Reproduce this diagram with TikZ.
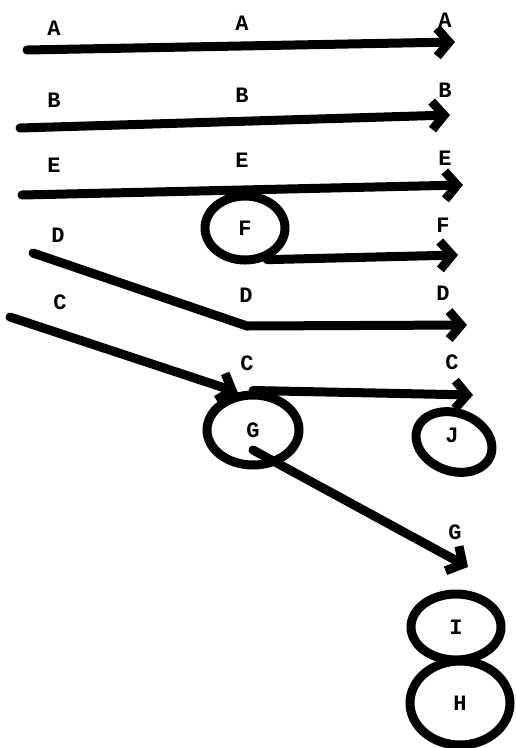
\documentclass[tikz,border=0pt]{standalone}
\usepackage{fontspec}
\setmonofont{Liberation Mono}
\usetikzlibrary{arrows.meta, shapes.geometric}
\tikzset{
  flow/.style={-{Straight Barb[length=12pt,width=28pt]}, line width=9pt, line cap=round, line join=round},
  lbl/.style={font=\ttfamily\bfseries\fontsize{22}{26}\selectfont, inner sep=0pt},
  blob/.style={ellipse, draw, line width=9pt, inner sep=0pt, font=\ttfamily\bfseries\fontsize{22}{26}\selectfont},
}
\begin{document}
\begin{tikzpicture}[x=1pt, y=-1pt]
  \useasboundingbox (0,0) rectangle (516,748);
  % straight rows
  \foreach \n/\xa/\ya/\xb/\yb in {A/27/50/455/42, B/20/128/450/115, E/22/195/463/185} {
    \coordinate (\n0) at (\xa,\ya);
    \coordinate (\n1) at (\xb,\yb);
    \draw[flow] (\n0) -- (\n1);
  }
  \foreach \n/\ya/\yb/\yc in {A/28/23/20, B/100/95/90, E/165/160/158} {
    \node[lbl] (l\n1) at (54,\ya) {\n};
    \node[lbl] (l\n2) at (242,\yb) {\n};
    \node[lbl] (l\n3) at (445,\yc) {\n};
  }
  % circles
  \node[blob, minimum width=80pt, minimum height=64pt] (F) at (245,228) {F};
  \node[blob, minimum width=92pt, minimum height=70pt] (G) at (253,430) {G};
  \node[blob, minimum width=78pt, minimum height=58pt, rotate=-20] (J) at (454,442) {};
  \node[lbl] (lJ) at (452,435) {J};
  \node[blob, minimum width=90pt, minimum height=66pt] (I) at (456,627) {I};
  \node[blob, minimum width=100pt, minimum height=84pt] (H) at (460,703) {H};
  % F row
  \coordinate (f1) at (458,255);
  \draw[flow] (F.-55) -- (f1);
  \node[lbl] (lF2) at (443,225) {F};
  % D row
  \coordinate (d0) at (33,253);
  \coordinate (d1) at (247,326);
  \coordinate (d2) at (467,325);
  \draw[flow] (d0) -- (d1) -- (d2);
  \node[lbl] (lD1) at (58,235) {D};
  \node[lbl] (lD2) at (246,295) {D};
  \node[lbl] (lD3) at (443,293) {D};
  % C row
  \coordinate (c0) at (10,317);
  \coordinate (c2) at (473,395);
  \draw[flow] (c0) -- (G.112);
  \draw[flow] (G.north) -- (c2);
  \node[lbl] (lC1) at (60,302) {C};
  \node[lbl] (lC2) at (247,363) {C};
  \node[lbl] (lC3) at (452,362) {C};
  % G row
  \coordinate (g0) at (253,450);
  \coordinate (g1) at (468,567);
  \draw[flow] (g0) -- (g1);
  \node[lbl] (lG3) at (455,532) {G};
\end{tikzpicture}
\end{document}
